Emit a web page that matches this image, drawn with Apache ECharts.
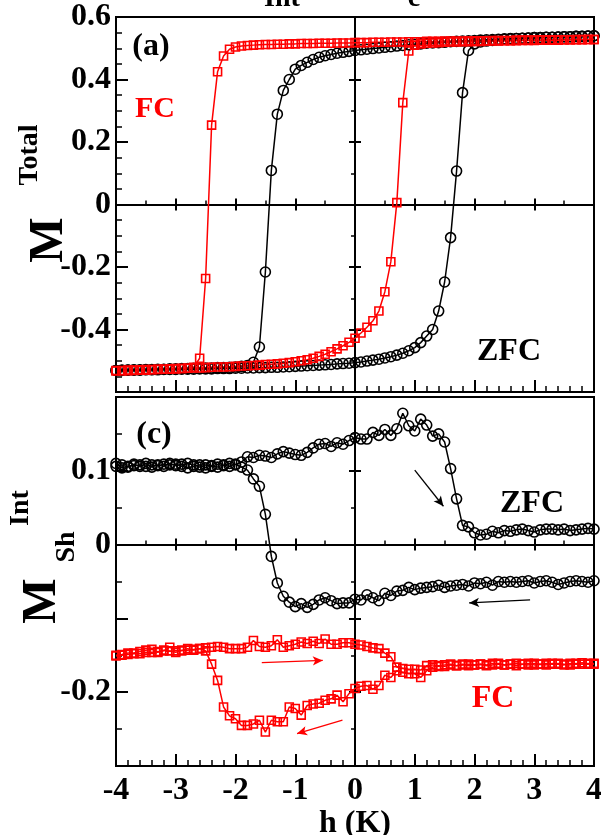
<!DOCTYPE html>
<html><head><meta charset="utf-8">
<script src="https://cdn.jsdelivr.net/npm/echarts@6/dist/echarts.min.js"></script>
<style>html,body{margin:0;padding:0;background:#fff}#c{width:601px;height:835px}</style>
</head><body><div id="c"></div>
<script>
// ---------- data ----------
const h = [-4.0,-3.9,-3.8,-3.7,-3.6,-3.5,-3.4,-3.3,-3.2,-3.1,-3.0,-2.9,-2.8,-2.7,-2.6,-2.5,-2.4,-2.3,-2.2,-2.1,-2.0,
  -1.9,-1.8,-1.7,-1.6,-1.5,-1.4,-1.3,-1.2,-1.1,-1.0,-0.9,-0.8,-0.7,-0.6,-0.5,-0.4,-0.3,-0.2,-0.1,0.0,
  0.1,0.2,0.3,0.4,0.5,0.6,0.7,0.8,0.9,1.0,1.1,1.2,1.3,1.4,1.5,1.6,1.7,1.8,1.9,2.0,
  2.1,2.2,2.3,2.4,2.5,2.6,2.7,2.8,2.9,3.0,3.1,3.2,3.3,3.4,3.5,3.6,3.7,3.8,3.9,4.0];

// panel (a): M^Total
const zfcTotalDown = [-0.531,-0.530,-0.530,-0.529,-0.529,-0.528,-0.528,-0.527,-0.527,-0.526,-0.526,-0.525,-0.525,-0.524,-0.524,-0.523,-0.523,-0.522,-0.522,-0.521,-0.520,
  -0.518,-0.515,-0.505,-0.456,-0.216,0.109,0.289,0.365,0.400,0.433,
  0.445,0.455,0.464,0.471,0.476,0.480,0.484,0.487,0.490,0.493,
  0.495,0.497,0.499,0.501,0.503,0.505,0.507,0.509,0.511,0.513,
  0.514,0.516,0.517,0.518,0.519,0.521,0.522,0.523,0.524,0.525,
  0.526,0.527,0.528,0.529,0.530,0.531,0.531,0.532,0.533,0.534,
  0.534,0.535,0.535,0.536,0.537,0.537,0.538,0.538,0.539,0.540];
const zfcTotalUp = [-0.531,-0.531,-0.530,-0.530,-0.530,-0.529,-0.529,-0.529,-0.528,-0.528,-0.528,-0.527,-0.527,-0.527,-0.526,-0.526,-0.526,-0.525,-0.525,-0.525,-0.524,
  -0.524,-0.523,-0.523,-0.522,-0.522,-0.521,-0.521,-0.520,-0.519,-0.518,
  -0.517,-0.516,-0.515,-0.514,-0.513,-0.512,-0.510,-0.509,-0.508,-0.506,
  -0.504,-0.501,-0.498,-0.495,-0.491,-0.487,-0.482,-0.476,-0.468,-0.458,
  -0.442,-0.421,-0.400,-0.341,-0.248,-0.106,0.107,0.358,0.493,0.514,
  0.520,0.523,0.525,0.527,0.529,0.530,0.531,0.532,0.533,0.534,
  0.534,0.535,0.535,0.536,0.537,0.537,0.538,0.538,0.539,0.540];
const fcTotalDown = [-0.533,-0.532,-0.532,-0.531,-0.530,-0.530,-0.529,-0.528,-0.527,-0.527,-0.526,-0.525,-0.524,-0.521,-0.492,-0.237,0.254,0.425,0.475,0.497,0.504,
  0.507,0.509,0.510,0.511,0.512,0.512,0.513,0.513,0.514,0.514,
  0.515,0.515,0.515,0.516,0.516,0.516,0.517,0.517,0.517,0.518,
  0.518,0.518,0.519,0.519,0.519,0.520,0.520,0.520,0.521,0.521,
  0.521,0.522,0.522,0.522,0.523,0.523,0.523,0.523,0.524,0.524,
  0.524,0.524,0.525,0.525,0.525,0.525,0.526,0.526,0.526,0.526,
  0.526,0.527,0.527,0.527,0.527,0.527,0.528,0.528,0.528,0.528];
const fcTotalUp = [-0.531,-0.531,-0.530,-0.530,-0.529,-0.528,-0.528,-0.527,-0.527,-0.526,-0.525,-0.525,-0.524,-0.523,-0.523,-0.522,-0.521,-0.520,-0.520,-0.519,-0.518,
  -0.517,-0.516,-0.515,-0.514,-0.512,-0.511,-0.510,-0.508,-0.506,-0.503,
  -0.500,-0.497,-0.492,-0.486,-0.479,-0.471,-0.462,-0.452,-0.441,-0.428,
  -0.411,-0.393,-0.372,-0.341,-0.279,-0.183,0.006,0.326,0.491,0.510,
  0.514,0.516,0.517,0.518,0.519,0.520,0.520,0.521,0.521,0.522,
  0.522,0.523,0.523,0.523,0.524,0.524,0.524,0.525,0.525,0.525,
  0.526,0.526,0.526,0.526,0.527,0.527,0.527,0.527,0.528,0.528];

// panel (c): M_Sh^Int
const zfcIntUp = [0.110,0.104,0.106,0.107,0.108,0.106,0.108,0.107,0.109,0.108,0.109,0.106,0.110,0.108,0.105,0.108,0.106,0.109,0.107,0.110,0.108,
  0.112,0.119,0.118,0.121,0.120,0.118,0.123,0.126,0.124,0.122,
  0.121,0.125,0.131,0.136,0.137,0.133,0.138,0.136,0.141,0.145,
  0.143,0.143,0.152,0.148,0.156,0.148,0.157,0.178,0.161,0.154,
  0.170,0.162,0.147,0.150,0.139,0.103,0.062,0.026,0.024,0.016,
  0.013,0.014,0.018,0.016,0.019,0.018,0.020,0.021,0.019,0.017,
  0.020,0.021,0.021,0.020,0.021,0.019,0.020,0.021,0.022,0.021];
const zfcIntDown = [0.106,0.108,0.105,0.109,0.106,0.110,0.105,0.108,0.106,0.110,0.107,0.109,0.104,0.106,0.108,0.104,0.107,0.105,0.108,0.106,0.109,
  0.105,0.101,0.089,0.079,0.041,-0.016,-0.052,-0.070,-0.078,-0.084,
  -0.080,-0.085,-0.081,-0.075,-0.072,-0.076,-0.080,-0.079,-0.079,-0.074,
  -0.075,-0.068,-0.072,-0.076,-0.066,-0.069,-0.063,-0.062,-0.058,-0.061,
  -0.059,-0.058,-0.057,-0.055,-0.058,-0.056,-0.055,-0.054,-0.056,-0.052,
  -0.053,-0.051,-0.055,-0.050,-0.051,-0.050,-0.051,-0.050,-0.049,-0.052,
  -0.050,-0.049,-0.051,-0.054,-0.052,-0.050,-0.049,-0.050,-0.051,-0.049];
const fcIntUp = [-0.150,-0.149,-0.147,-0.147,-0.145,-0.143,-0.142,-0.146,-0.144,-0.139,-0.144,-0.144,-0.141,-0.143,-0.141,-0.140,-0.139,-0.138,-0.139,-0.141,-0.141,
  -0.141,-0.139,-0.130,-0.138,-0.139,-0.137,-0.129,-0.139,-0.137,-0.135,
  -0.132,-0.134,-0.131,-0.134,-0.128,-0.135,-0.135,-0.133,-0.133,-0.135,
  -0.136,-0.138,-0.140,-0.141,-0.147,-0.152,-0.166,-0.168,-0.169,-0.169,
  -0.170,-0.164,-0.163,-0.165,-0.163,-0.162,-0.164,-0.163,-0.162,-0.163,
  -0.162,-0.163,-0.161,-0.162,-0.163,-0.162,-0.161,-0.162,-0.163,-0.161,
  -0.162,-0.161,-0.162,-0.161,-0.162,-0.163,-0.161,-0.162,-0.161,-0.162];
const fcIntDown = [-0.151,-0.150,-0.149,-0.148,-0.148,-0.146,-0.146,-0.145,-0.143,-0.144,-0.146,-0.143,-0.143,-0.142,-0.141,-0.144,-0.162,-0.184,-0.220,-0.232,-0.236,
  -0.245,-0.245,-0.243,-0.238,-0.254,-0.238,-0.240,-0.240,-0.220,-0.222,
  -0.231,-0.218,-0.216,-0.215,-0.211,-0.209,-0.204,-0.213,-0.202,-0.195,
  -0.192,-0.191,-0.196,-0.191,-0.177,-0.180,-0.171,-0.173,-0.175,-0.175,
  -0.180,-0.171,-0.166,-0.164,-0.165,-0.163,-0.164,-0.162,-0.164,-0.163,
  -0.162,-0.164,-0.163,-0.161,-0.163,-0.162,-0.164,-0.162,-0.161,-0.163,
  -0.162,-0.163,-0.161,-0.162,-0.163,-0.161,-0.162,-0.160,-0.162,-0.161];

// tick labels
const xTickLabels = ['-4','-3','-2','-1','0','1','2','3','4'];
const yTopLabels = ['0.6','0.4','0.2','0','-0.2','-0.4'];
const yBottomLabels = ['0.1','0','-0.2'];

// direction arrows in panel (c)
const arrowsStart = [[1.00, 0.101], [2.93, -0.075], [-1.56, -0.160], [-0.21, -0.238]];
const arrowsEnd   = [[1.48, 0.052], [1.91, -0.079], [-0.54, -0.157], [-0.97, -0.256]];
const arrowColors = ['#000', '#000', '#ff0000', '#ff0000'];

// ---------- chart ----------
const SERIF = "'Liberation Serif','Times New Roman',serif";
const chart = echarts.init(document.getElementById('c'), null, {renderer: 'canvas'});
const tickStyle = {color: '#000', width: 2};
const lbl = (v) => String(Math.round(v * 10) / 10);

function frameX(grid, showLabels) {
  return {gridIndex: grid, type: 'value', min: -4, max: 4, interval: 1, position: 'bottom',
    axisLine: {show: false, onZero: false},
    axisTick: {show: true, inside: true, length: 12, lineStyle: tickStyle},
    minorTick: {show: true, splitNumber: 5, length: 6, lineStyle: {color: '#000', width: 1.5}},
    splitLine: {show: false}, minorSplitLine: {show: false},
    axisLabel: {show: showLabels, margin: 9, color: '#000', fontFamily: SERIF, fontWeight: 'bold', fontSize: 32,
      formatter: (v) => { const s = lbl(v); return xTickLabels.includes(s) ? s : ''; }},
    name: showLabels ? 'h (K)' : '', nameLocation: 'middle', nameGap: 36,
    nameTextStyle: {color: '#000', fontFamily: SERIF, fontWeight: 'bold', fontSize: 32}};
}
function zeroX(grid, yIdx, inside) {
  return {gridIndex: grid, type: 'value', min: -4, max: 4, interval: 1, position: 'bottom',
    axisLine: {show: true, onZero: true, onZeroAxisIndex: yIdx, lineStyle: {color: '#000', width: 2}},
    axisTick: {show: true, inside: inside, length: 6, lineStyle: tickStyle},
    minorTick: {show: inside, splitNumber: 2, length: 4, lineStyle: {color: '#000', width: 1.5}},
    splitLine: {show: false}, axisLabel: {show: false}};
}
function frameY(grid, min, max, interval, minorSplit, labels) {
  return {gridIndex: grid, type: 'value', min: min, max: max, interval: interval, position: 'left',
    axisLine: {show: false, onZero: false},
    axisTick: {show: true, inside: true, length: 12, lineStyle: tickStyle},
    minorTick: {show: true, splitNumber: minorSplit, length: 6, lineStyle: {color: '#000', width: 1.5}},
    splitLine: {show: false}, minorSplitLine: {show: false},
    axisLabel: {show: true, margin: 5, color: '#000', fontFamily: SERIF, fontWeight: 'bold', fontSize: 32,
      showMinLabel: true, showMaxLabel: true,
      formatter: (v) => { const s = lbl(v); return labels.includes(s) ? s : ''; }}};
}
function zeroY(grid, min, max, interval, xIdx, inside) {
  return {gridIndex: grid, type: 'value', min: min, max: max, interval: interval, position: 'left',
    axisLine: {show: true, onZero: true, onZeroAxisIndex: xIdx, lineStyle: {color: '#000', width: 2}},
    axisTick: {show: true, inside: inside, length: 6, lineStyle: tickStyle},
    minorTick: {show: !inside, splitNumber: 2, length: 4, lineStyle: {color: '#000', width: 1.5}},
    splitLine: {show: false}, axisLabel: {show: false}};
}

function mk(vals, xi, yi, red) {
  const c = red ? '#ff0000' : '#000000';
  return {type: 'line', xAxisIndex: xi, yAxisIndex: yi, data: h.map((x, i) => [x, vals[i]]),
    symbol: red ? 'rect' : 'circle', symbolSize: red ? 8 : 10, showSymbol: true, showAllSymbol: true,
    lineStyle: {color: c, width: 1.5},
    itemStyle: {color: 'rgba(0,0,0,0)', borderColor: c, borderWidth: 1.6},
    emphasis: {disabled: true}, silent: true, animation: false, clip: false};
}

const s4 = mk(zfcIntUp, 3, 3, false);
s4.markLine = {silent: true, animation: false, symbol: ['none', 'arrow'], symbolSize: [7, 10],
  label: {show: false}, emphasis: {disabled: true},
  lineStyle: {type: 'solid', width: 1.3},
  data: arrowsStart.map((a, i) => [{coord: a, lineStyle: {color: arrowColors[i], type: 'solid', width: 1.3}, itemStyle: {color: arrowColors[i]}},
                                   {coord: arrowsEnd[i], itemStyle: {color: arrowColors[i]}}])};

function txt(t, x, y, size, color, rot, va) {
  return {type: 'text', x: x, y: y, rotation: rot || 0, silent: true,
    style: {text: t, fill: color || '#000', font: 'bold ' + size + 'px ' + SERIF,
      align: 'center', textAlign: 'center', verticalAlign: va || 'middle', textVerticalAlign: va || 'middle'}};
}
const R = Math.PI / 2;

chart.setOption({
  backgroundColor: '#fff',
  animation: false,
  grid: [
    {left: 116, top: 17, width: 478, height: 375, outerBoundsMode: 'none', containLabel: false,
      show: true, borderColor: '#000', borderWidth: 2, backgroundColor: 'transparent'},
    {left: 116, top: 397, width: 478, height: 369, outerBoundsMode: 'none', containLabel: false,
      show: true, borderColor: '#000', borderWidth: 2, backgroundColor: 'transparent'}
  ],
  xAxis: [
    frameX(0, false), zeroX(0, 0, true), zeroX(0, 0, false),
    frameX(1, true), zeroX(1, 3, true), zeroX(1, 3, false)
  ],
  yAxis: [
    frameY(0, -0.6, 0.6, 0.2, 4, yTopLabels), zeroY(0, -0.6, 0.6, 0.2, 0, false), zeroY(0, -0.6, 0.6, 0.2, 0, true),
    frameY(1, -0.3, 0.2, 0.1, 2, yBottomLabels), zeroY(1, -0.3, 0.2, 0.1, 3, false), zeroY(1, -0.3, 0.2, 0.1, 3, true)
  ],
  series: [
    mk(zfcTotalDown, 0, 0, false), mk(zfcTotalUp, 0, 0, false),
    mk(fcTotalDown, 0, 0, true), mk(fcTotalUp, 0, 0, true),
    s4, mk(zfcIntDown, 3, 3, false),
    mk(fcIntUp, 3, 3, true), mk(fcIntDown, 3, 3, true)
  ],
  graphic: [
    txt('M', 50, 240, 48, '#000', R),
    txt('Total', 30, 155, 28, '#000', R),
    txt('M', 43, 601, 48, '#000', R),
    txt('Sh', 67, 547, 28, '#000', R),
    txt('Int', 21, 508, 28, '#000', R),
    txt('(a)', 151, 47, 32),
    txt('FC', 155, 109, 30, '#ff0000'),
    txt('ZFC', 509, 352, 32),
    txt('(c)', 154, 435, 32),
    txt('ZFC', 532, 504, 32),
    txt('FC', 493, 699, 32, '#ff0000'),
    txt('Int', 282, 13, 28, '#000', 0, 'bottom'),
    txt('c', 414, 13, 28, '#000', 0, 'bottom')
  ]
});
</script></body></html>
